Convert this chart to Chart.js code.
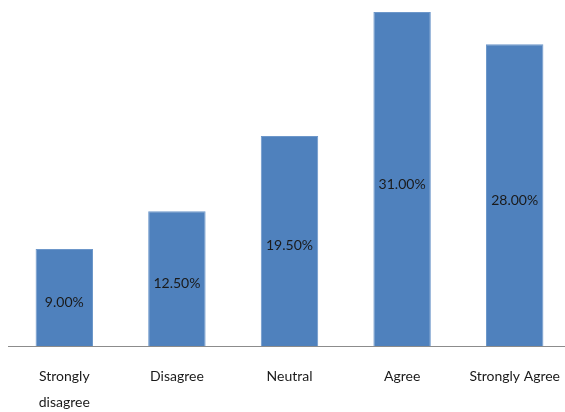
<!DOCTYPE html>
<html>
<head>
<meta charset="utf-8">
<script src="https://cdn.jsdelivr.net/npm/chart.js@4/dist/chart.umd.min.js"></script>
<style>
  html, body { margin: 0; padding: 0; background: #fff; overflow: hidden; }
  #wrap { width: 565px; height: 412px; overflow: hidden; }
</style>
</head>
<body>
<div id="wrap"><canvas id="surveyChart" width="578" height="412"></canvas></div>
<script>
const categories = [["Strongly", "disagree"], "Disagree", "Neutral", "Agree", "Strongly Agree"];
const percentages = [9.0, 12.5, 19.5, 31.0, 28.0];

// labels written inside each bar
const barLabels = {
  id: "barLabels",
  afterDatasetsDraw(chart) {
    const { ctx } = chart;
    const meta = chart.getDatasetMeta(0);
    ctx.save();
    ctx.font = "14px Lato";
    ctx.fillStyle = "#1a1a1a";
    ctx.textAlign = "center";
    ctx.textBaseline = "middle";
    meta.data.forEach((bar, i) => {
      const y = (bar.y + bar.base) / 2 + 5;
      ctx.fillText(percentages[i].toFixed(2) + "%", bar.x, y);
    });
    ctx.restore();
  }
};

const ctx = document.getElementById("surveyChart").getContext("2d");
new Chart(ctx, {
  type: "bar",
  data: {
    labels: categories,
    datasets: [
      {
        data: percentages,
        backgroundColor: "#4f81bd",
        borderColor: "#6d97ca",
        borderWidth: 1,
        categoryPercentage: 1,
        barPercentage: 0.51
      }
    ]
  },
  options: {
    responsive: false,
    animation: false,
    layout: { padding: { top: 12, left: 8, right: 0, bottom: 0 } },
    plugins: {
      legend: { display: false },
      tooltip: { enabled: false }
    },
    scales: {
      y: {
        display: false,
        min: 0,
        max: 31
      },
      x: {
        grid: { display: false, drawTicks: false },
        border: { display: true, color: "#8c8c8c", width: 1 },
        ticks: {
          color: "#1a1a1a",
          font: { family: "Lato", size: 14, lineHeight: 1.85 },
          padding: 18,
          maxRotation: 0,
          autoSkip: false
        },
        afterFit: scale => { scale.height = 66; }
      }
    }
  },
  plugins: [barLabels]
});
</script>
</body>
</html>
